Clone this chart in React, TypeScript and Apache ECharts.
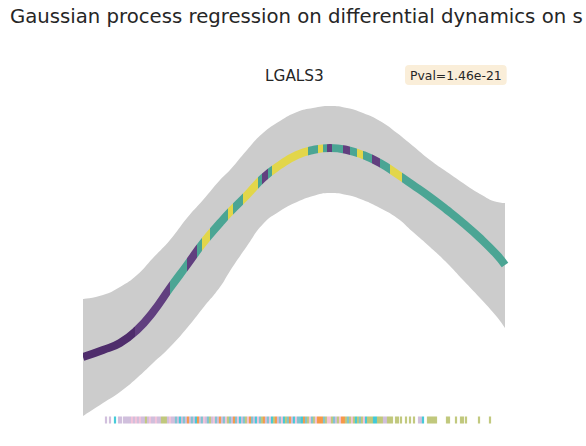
import React, { useEffect, useRef } from "react";
import * as echarts from "echarts";

// ---------- data ----------
const TITLE = "Gaussian process regression on differential dynamics on s";
const GENE = "LGALS3";
const PVAL = "Pval=1.46e-21";

// pseudotime grid of the GP fit
const pseudotime = [0, 5, 9.25, 13.5, 17.5, 21.75, 26, 30, 34.25, 36.75, 41, 45, 49.25, 53.5, 57.5, 61.75, 66, 70, 74.25, 78.5, 82.5, 86.75, 91, 95, 99.25, 103.5, 105.5];
const meanExpr = [0.63, 0.7, 0.77, 0.9, 1.08, 1.32, 1.55, 1.77, 1.97, 2.08, 2.25, 2.42, 2.55, 2.65, 2.7, 2.72, 2.7, 2.65, 2.57, 2.46, 2.35, 2.23, 2.1, 1.97, 1.82, 1.65, 1.55];
const upperCI = [1.21, 1.25, 1.33, 1.45, 1.62, 1.8, 2.02, 2.2, 2.4, 2.5, 2.7, 2.87, 2.99, 3.08, 3.12, 3.14, 3.12, 3.07, 2.99, 2.87, 2.74, 2.6, 2.48, 2.37, 2.26, 2.18, 2.17];
const lowerCI = [0.04, 0.17, 0.28, 0.42, 0.57, 0.73, 0.92, 1.12, 1.33, 1.49, 1.74, 1.96, 2.09, 2.18, 2.24, 2.27, 2.25, 2.2, 2.12, 2.02, 1.88, 1.73, 1.57, 1.4, 1.22, 1.03, 0.92];

// colour segments of the mean curve (pseudotime ranges)
const segStart = [0, 13, 21.75, 26, 28.5, 29.75, 31.75, 36.25, 37.5, 40, 43.75, 44.75, 46.25, 47.25, 56.25, 58.75, 60, 61, 62.25, 65, 66.75, 68.5, 70, 72.25, 74.25, 76.75, 79.75];
const segCluster = ["D", "U", "T", "U", "T", "Y", "T", "Y", "T", "Y", "T", "U", "T", "Y", "T", "Y", "T", "U", "T", "U", "T", "Y", "T", "U", "T", "Y", "T"];
const segPalette: Record<string, string> = { D: "#4f2d6c", U: "#613f7f", T: "#4ba594", Y: "#e2d64a" };

// rug of cells along pseudotime
const rugT = [
  5.75, 6.75, 8, 9, 9.5, 10.25, 10.75, 11.25, 11.75,
  12.25, 12.75, 13.25, 13.75, 14.25, 14.75, 15.25, 15.75, 16.25, 16.75,
  17.25, 17.75, 18.25, 18.75, 19.25, 19.75, 20.25, 20.75, 21.25, 21.75,
  22.25, 22.75, 23.25, 23.75, 24.25, 24.75, 25.25, 25.75, 26.25, 26.75,
  27.25, 27.75, 28.25, 28.75, 29.25, 29.75, 30.25, 30.75, 31.25, 31.75,
  32.25, 32.75, 33.25, 33.75, 34.25, 34.75, 35.25, 35.75, 36.25, 36.75,
  37.25, 37.75, 38.25, 38.75, 39.25, 39.75, 40.25, 40.75, 41.25, 41.75,
  42.25, 42.75, 43.25, 43.75, 44.25, 44.75, 45.25, 45.75, 46.25, 46.75,
  47.25, 47.75, 48.25, 48.75, 49.25, 49.75, 50.25, 50.75, 51.25, 51.75,
  52.25, 52.75, 53.25, 53.75, 54.25, 54.75, 55.25, 55.75, 56.25, 56.75,
  57.25, 57.75, 58.25, 58.75, 59.25, 59.75, 60.25, 60.75, 61.25, 61.75,
  62.25, 62.75, 63.25, 63.75, 64.25, 64.75, 65.25, 65.75, 66.25, 66.75,
  67.25, 67.75, 68.25, 68.75, 69.25, 69.75, 70.25, 70.75, 71.25, 71.75,
  72.25, 72.75, 73.25, 73.75, 74.25, 74.75, 75.25, 75.75, 76.25, 76.75,
  77.25, 78.25, 78.75, 79.5, 80.75, 81.75, 82.75, 84, 84.5, 85,
  86.25, 86.75, 87.25, 87.75, 88.25, 91, 91.5, 93.25, 94.5, 95,
  95.75, 99, 101.75,
];
const rugCluster = (
  "LLCLLLLLL" +
  "PLPLPLLGLP" +
  "LLPLLGGGLP" +
  "LLBLCLBLOL" +
  "BLCOLBPLBG" +
  "LPBLOLBPGB" +
  "LOBPCLBGPO" +
  "BLCPBGOLBP" +
  "CGOLBPCGBO" +
  "LCPBBCOBGP" +
  "BGPOOOBGPP" +
  "GBLGPOOGBG" +
  "PGCGBGPCGG" +
  "GCCGGGLLGG" +
  "GGGGGGGLLC" +
  "GGGGGGGGGG" +
  "GGG"
).split("");
const rugPalette: Record<string, string> = {
  L: "#c5b0d5",
  P: "#f1b5cf",
  C: "#17becf",
  B: "#62b6c6",
  O: "#f5821f",
  G: "#b3bc5f",
};

export default function App() {
  const ref = useRef<HTMLDivElement>(null);

  useEffect(() => {
    if (!ref.current) return;
    const chart = echarts.init(ref.current, undefined, { renderer: "svg" });

    const upperData = pseudotime.map((t, i) => [t, upperCI[i]]);
    const lowerData = pseudotime.map((t, i) => [t, lowerCI[i]]);
    const meanData = pseudotime.map((t, i) => [t, meanExpr[i]]);
    const n = Math.min(rugT.length, rugCluster.length);
    const rugData = rugT.slice(0, n).map((t, i) => ({
      value: [t, 0],
      itemStyle: { color: rugPalette[rugCluster[i]] },
    }));
    const pieces = segStart.map((s, i) => ({
      gte: s,
      lt: i + 1 < segStart.length ? segStart[i + 1] : 1000,
      color: segPalette[segCluster[i]],
    }));

    chart.setOption({
      animation: false,
      backgroundColor: "#ffffff",
      title: [
        {
          text: TITLE,
          left: 10,
          top: 6,
          padding: 0,
          textStyle: { fontFamily: "DejaVu Sans", fontSize: 19.7, fontWeight: "normal", color: "#262626" },
        },
        {
          text: GENE,
          left: 265,
          top: 68,
          padding: 0,
          textStyle: { fontFamily: "DejaVu Sans", fontSize: 15.3, fontWeight: "normal", color: "#262626" },
        },
        {
          text: PVAL,
          left: 405,
          top: 65,
          padding: [4, 5, 4, 5],
          backgroundColor: "#faeed9",
          borderRadius: 4,
          textStyle: { fontFamily: "DejaVu Sans", fontSize: 12.4, fontWeight: "normal", color: "#262626" },
        },
      ],
      grid: { left: 83, right: 81, top: 100, bottom: 6 },
      xAxis: { type: "value", min: 0, max: 105.5, show: false },
      yAxis: { type: "value", min: -0.2, max: 3.2, show: false },
      visualMap: {
        show: false,
        type: "piecewise",
        dimension: 0,
        seriesIndex: 2,
        pieces,
      },
      series: [
        {
          type: "line",
          data: upperData,
          smooth: true,
          symbol: "none",
          lineStyle: { opacity: 0 },
          areaStyle: { color: "#cccccc", opacity: 1, origin: "start" },
          silent: true,
          z: 1,
        },
        {
          type: "line",
          data: lowerData,
          smooth: true,
          symbol: "none",
          lineStyle: { opacity: 0 },
          areaStyle: { color: "#ffffff", opacity: 1, origin: "start" },
          silent: true,
          z: 2,
        },
        {
          type: "line",
          data: meanData,
          smooth: true,
          symbol: "none",
          lineStyle: { width: 8, cap: "butt" },
          z: 3,
        },
        {
          type: "scatter",
          data: rugData,
          symbol: "rect",
          symbolSize: [2.2, 7],
          z: 4,
        },
      ],
    });

    return () => chart.dispose();
  }, []);

  return (
    <div
      ref={ref}
      style={{ position: "fixed", left: 0, top: 0, width: 586, height: 446 }}
    />
  );
}
